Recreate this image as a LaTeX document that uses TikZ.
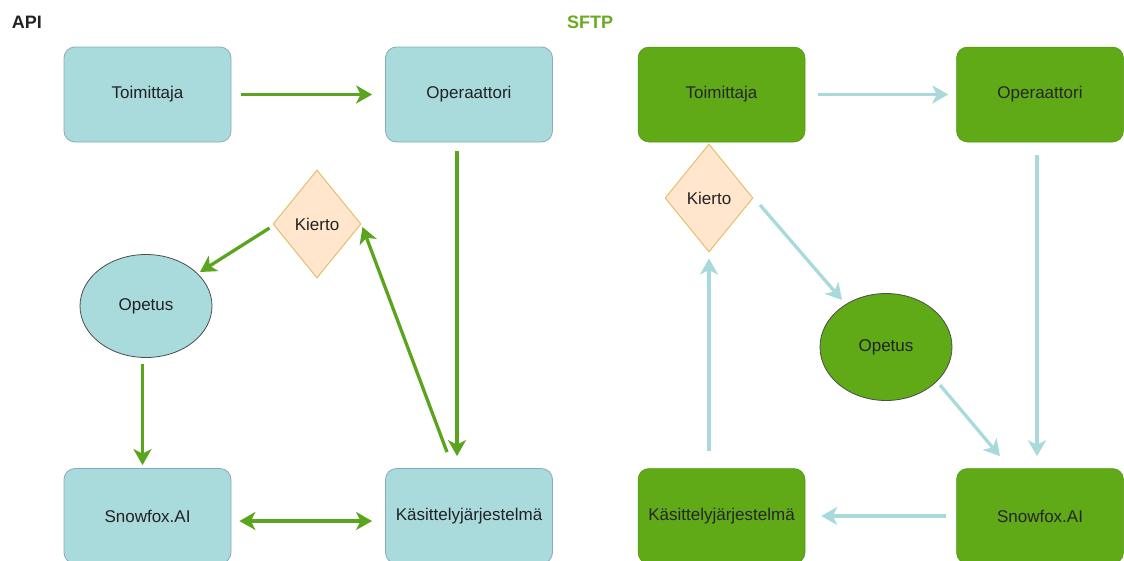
\documentclass[tikz,border=0pt]{standalone}
\usepackage{fontspec}
\setmainfont{Liberation Sans}
\usetikzlibrary{arrows.meta,shapes.geometric}
\definecolor{tealfill}{HTML}{A9DADC}
\definecolor{tealline}{HTML}{8AAABD}
\definecolor{gfill}{HTML}{60A917}
\definecolor{garrow}{HTML}{5BA51E}
\definecolor{tarrow}{HTML}{A8DADC}
\definecolor{dfill}{HTML}{FFE6CC}
\definecolor{dline}{HTML}{E6BE6E}
\definecolor{txt}{HTML}{222222}
\definecolor{sftpc}{HTML}{6AAA1E}
\tikzset{
  lbl/.style={font=\fontsize{17}{19}\selectfont, text=txt},
  box/.style={rectangle, rounded corners=11pt, minimum width=167pt, minimum height=95pt, inner sep=0pt, lbl},
  tbox/.style={box, fill=tealfill, draw=tealline, line width=0.8pt},
  gbox/.style={box, fill=gfill, draw=gfill!85!black, line width=0.5pt, text=black!85},
  dia/.style={diamond, aspect=0.815, minimum width=88pt, minimum height=108pt, inner sep=0pt, fill=dfill, draw=dline, line width=1pt, lbl},
  ell/.style={ellipse, minimum width=132pt, minimum height=103pt, inner sep=0pt, draw=black!70, line width=0.8pt, lbl},
  garr/.style={draw=garrow, line width=3.3pt, -{Stealth[length=16pt,width=18pt,inset=4.5pt]}},
  tarr/.style={draw=tarrow, line width=3.3pt, -{Stealth[length=16pt,width=18pt,inset=4.5pt]}},
  ttl/.style={font=\bfseries\fontsize{18}{20}\selectfont, inner sep=0pt}
}
\begin{document}
\begin{tikzpicture}[x=1pt,y=-1pt]
\useasboundingbox (0,0) rectangle (1124,560);
% titles
\node[ttl, text=txt] (api) at (27,22) {API};
\node[ttl, text=sftpc] (sftp) at (590,22) {SFTP};
% left diagram
\node[tbox] (to1) at (147.5,94.5) {Toimittaja};
\node[tbox] (op1) at (469,94.5) {Operaattori};
\node[tbox] (sn1) at (147.5,516) {Snowfox.AI};
\node[tbox] (ka1) at (469,516) {Käsittelyjärjestelmä};
\node[dia] (ki1) at (317,224) {Kierto};
\node[ell, fill=tealfill] (ope1) at (146,306) {Opetus};
\draw[garr] ([xshift=10pt]to1.east) -- ([xshift=-13pt]op1.west);
\draw[garr] ([xshift=-12pt,yshift=-9pt]op1.south) -- ([xshift=-12pt,yshift=12pt]ka1.north);
\draw[garr] ([xshift=-22pt,yshift=16pt]ka1.north) -- ([xshift=1pt,yshift=-3pt]ki1.east);
\draw[garr] ([xshift=-3pt,yshift=-4pt]ki1.west) -- ([xshift=54pt,yshift=34pt]ope1.center);
\draw[garr] ([xshift=-3.5pt,yshift=-6pt]ope1.south) -- ([xshift=-5pt,yshift=3pt]sn1.north);
\draw[garr, {Stealth[length=16pt,width=18pt,inset=4.5pt]}-{Stealth[length=16pt,width=18pt,inset=4.5pt]}] ([xshift=8pt,yshift=-5pt]sn1.east) -- ([xshift=-13pt,yshift=-5pt]ka1.west);
% right diagram
\node[gbox] (to2) at (721.5,94.5) {Toimittaja};
\node[gbox] (op2) at (1040,94.5) {Operaattori};
\node[gbox] (sn2) at (1040,516) {Snowfox.AI};
\node[gbox] (ka2) at (721.5,516) {Käsittelyjärjestelmä};
\node[dia] (ki2) at (709,198) {Kierto};
\node[ell, fill=gfill, minimum height=107pt] (ope2) at (886,347) {Opetus};
\draw[tarr] ([xshift=13pt]to2.east) -- ([xshift=-8pt]op2.west);
\draw[tarr] ([xshift=-3pt,yshift=-13pt]op2.south) -- ([xshift=-3pt,yshift=12pt]sn2.north);
\draw[tarr] ([xshift=51pt,yshift=-7pt]ki2.center) -- ([xshift=-44pt,yshift=47pt]ope2.center);
\draw[tarr] ([xshift=54pt,yshift=-38pt]ope2.center) -- ([xshift=-40pt,yshift=12pt]sn2.north);
\draw[tarr] ([xshift=-10pt]sn2.west) -- ([xshift=16pt]ka2.east);
\draw[tarr] ([xshift=-12.5pt,yshift=17pt]ka2.north) -- ([yshift=-6pt]ki2.south);
\end{tikzpicture}
\end{document}
